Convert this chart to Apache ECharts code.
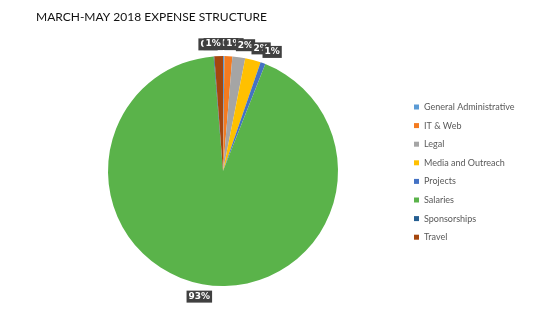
<!DOCTYPE html>
<html><head><meta charset="utf-8">
<script src="https://cdn.jsdelivr.net/npm/echarts@6/dist/echarts.min.js"></script>
<style>html,body{margin:0;padding:0;background:#fff}#c{width:548px;height:329px}</style>
</head><body><div id="c"></div>
<script>
const categories = ['General Administrative','IT & Web','Legal','Media and Outreach','Projects','Salaries','Sponsorships','Travel'];
const values = [0.2, 1.1, 1.8, 2.2, 0.7, 92.7, 0.1, 1.2];
const colors = ['#5B9BD5','#F47B20','#A5A5A5','#FFC000','#4472C4','#5AB34A','#255E91','#A5460E'];
const titleText = 'MARCH-MAY 2018 EXPENSE STRUCTURE';

const chart = echarts.init(document.getElementById('c'), null, {renderer:'canvas'});
chart.setOption({
  animation: false,
  backgroundColor: '#fff',
  color: colors,
  title: {
    text: titleText, left: 31, top: 6,
    textStyle: {fontFamily: 'Lato', fontSize: 12, fontWeight: 'normal', color: '#111'}
  },
  legend: {
    orient: 'vertical', left: 409, top: 96,
    icon: 'rect', itemWidth: 5, itemHeight: 5, itemGap: 6.6, itemTextGap: 2,
    textStyle: {fontFamily: 'Lato', fontSize: 9, color: '#595959', lineHeight: 12},
    data: categories
  },
  series: [{
    type: 'pie',
    center: [223, 171],
    radius: 115,
    startAngle: 90,
    clockwise: true,
    avoidLabelOverlap: false,
    data: categories.map((n, i) => ({name: n, value: values[i]})),
    label: {
      show: true, position: 'outside',
      formatter: p => Math.round(p.percent) + '%',
      backgroundColor: '#404040', color: '#fff',
      fontFamily: 'DejaVu Sans', fontWeight: 'bold', fontSize: 9,
      padding: [2, 2, 1, 2]
    },
    labelLine: {show: false, length: 12, length2: 0},
    labelLayout: {align: 'center', verticalAlign: 'middle', hideOverlap: false, moveOverlap: null},
    itemStyle: {borderWidth: 0},
    emphasis: {disabled: true}
  }]
});
</script></body></html>
